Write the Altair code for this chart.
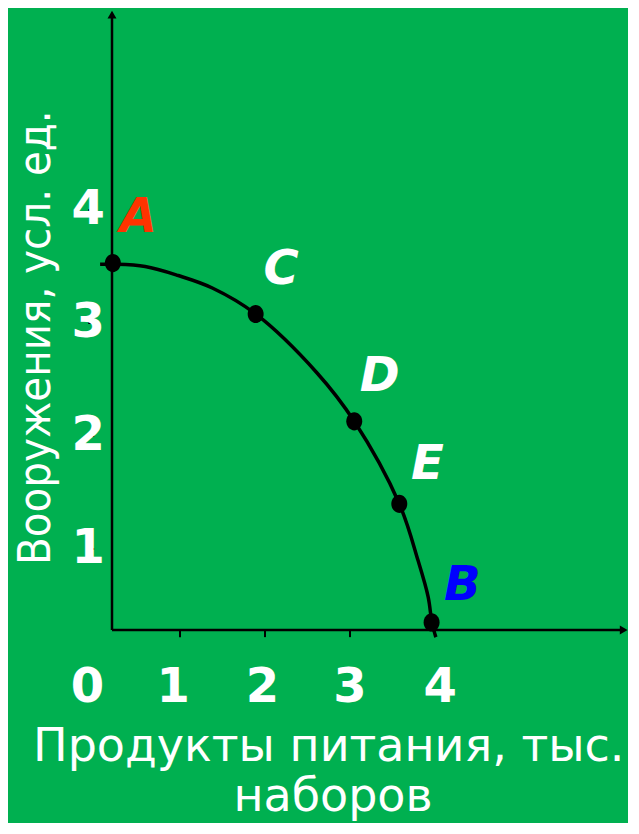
import altair as alt
import pandas as pd

# ---- data ----
point_names = ["A", "C", "D", "E", "B"]
food = [0.21, 1.89, 3.05, 3.58, 3.96]          # Продукты питания
arms = [3.53, 3.08, 2.13, 1.40, 0.35]          # Вооружения
label_colors = ["#FF3300", "#FFFFFF", "#FFFFFF", "#FFFFFF", "#0000FF"]
label_x = [0.51, 2.19, 3.35, 3.91, 4.32]
label_y = [3.93, 3.47, 2.52, 1.74, 0.67]

# production-possibility curve
curve_x = [0.06, 0.21, 0.59, 0.98, 1.38, 1.89, 2.61, 3.05, 3.58, 3.80, 3.92, 3.965, 4.01]
curve_y = [3.52, 3.52, 3.50, 3.42, 3.31, 3.08, 2.56, 2.13, 1.40, 0.90, 0.575, 0.345, 0.22]

tick_values = [1, 2, 3, 4]
x_tick_labels = ["0", "1", "2", "3", "4"]
x_tick_label_pos = [-0.09, 0.92, 1.97, 3.0, 4.06]
y_tick_labels = ["1", "2", "3", "4"]

x_title = "Продукты питания, тыс."
x_title2 = "наборов"
y_title = "Вооружения, усл. ед."

# axis geometry in data units
x_axis_start, x_axis_end = 0.2, 6.19
y_axis_start, y_axis_end = 0.283, 5.70

W, H = 620, 815
BG = "#00B050"

xs = alt.Scale(domain=[-1.02353, 6.27059], nice=False, zero=False)
ys = alt.Scale(domain=[-1.42478, 5.78761], nice=False, zero=False)

def X(field):
    return alt.X(field, type="quantitative", scale=xs, axis=None)

def Y(field):
    return alt.Y(field, type="quantitative", scale=ys, axis=None)

pts = pd.DataFrame({"name": point_names, "x": food, "y": arms,
                    "lx": label_x, "ly": label_y, "color": label_colors})
curve_df = pd.DataFrame({"x": curve_x, "y": curve_y, "i": list(range(len(curve_x)))})

# axes lines
axes_df = pd.DataFrame({
    "x": [x_axis_start, x_axis_start], "x2": [x_axis_start, x_axis_end],
    "y": [y_axis_start, y_axis_start], "y2": [y_axis_end, y_axis_start]})
axes = alt.Chart(axes_df).mark_rule(color="black", strokeWidth=2.5).encode(
    x=X("x"), x2="x2", y=Y("y"), y2="y2")

arrows_df = pd.DataFrame({"x": [x_axis_start, x_axis_end + 0.03],
                          "y": [y_axis_end + 0.03, y_axis_start],
                          "shape": ["triangle-up", "triangle-right"]})
arrows = alt.Chart(arrows_df).mark_point(filled=True, color="black", size=80, opacity=1).encode(
    x=X("x"), y=Y("y"), shape=alt.Shape("shape:N", scale=None, legend=None))

# ticks
xt_df = pd.DataFrame({"x": tick_values, "y": [0.283] * 4, "y2": [0.22] * 4})
xticks = alt.Chart(xt_df).mark_rule(color="black", strokeWidth=2).encode(
    x=X("x"), y=Y("y"), y2="y2")
yt_df = pd.DataFrame({"y": tick_values, "x": [-0.08] * 4, "x2": [-0.01] * 4})
yticks = alt.Chart(yt_df).mark_rule(color="black", strokeWidth=2).encode(
    x=X("x"), x2="x2", y=Y("y"))

# tick labels
xl_df = pd.DataFrame({"t": x_tick_labels, "x": x_tick_label_pos, "y": [-0.23] * 5})
xlabels = alt.Chart(xl_df).mark_text(font="DejaVu Sans", fontSize=48, fontWeight="bold",
                                     color="white", baseline="middle", align="center").encode(
    x=X("x"), y=Y("y"), text="t:N")
yl_df = pd.DataFrame({"t": y_tick_labels, "y": tick_values, "x": [-0.08] * 4})
ylabels = alt.Chart(yl_df).mark_text(font="DejaVu Sans", fontSize=48, fontWeight="bold",
                                     color="white", baseline="middle", align="center").encode(
    x=X("x"), y=Y("y"), text="t:N")

# curve and points
curve = alt.Chart(curve_df).mark_line(color="black", strokeWidth=3.5, interpolate="catmull-rom").encode(
    x=X("x"), y=Y("y"), order="i:Q")
dots = alt.Chart(pts).mark_point(filled=True, color="black", size=330, opacity=1,
                                 shape="M-0.88,0A0.88,1,0,1,0,0.88,0A0.88,1,0,1,0,-0.88,0Z").encode(
    x=X("x"), y=Y("y"))
labels = alt.Chart(pts).mark_text(font="DejaVu Sans", fontSize=48, fontWeight="bold",
                                  fontStyle="italic", baseline="middle", align="center").encode(
    x=X("lx"), y=Y("ly"), text="name:N", color=alt.Color("color:N", scale=None, legend=None))

# titles
t_df = pd.DataFrame({"t": [x_title, x_title2], "x": [2.75, 2.8], "y": [-0.88, -1.32]})
xtitle = alt.Chart(t_df).mark_text(font="DejaVu Sans", fontSize=46, color="white",
                                   baseline="alphabetic", align="center").encode(
    x=X("x"), y=Y("y"), text="t:N")
yt_title_df = pd.DataFrame({"t": [y_title], "x": [-0.70], "y": [2.87]})
ytitle = alt.Chart(yt_title_df).mark_text(font="DejaVu Sans Condensed", fontSize=45, color="white",
                                          angle=270, baseline="middle", align="center").encode(
    x=X("x"), y=Y("y"), text="t:N")

chart = alt.layer(axes, arrows, xticks, yticks, xlabels, ylabels, curve, dots, labels,
                  xtitle, ytitle).properties(
    width=W, height=H, background=BG, padding=0,
    autosize=alt.AutoSizeParams(type="none")
).configure_view(stroke=None)

chart.save("out.html", embed_options={"renderer": "svg", "actions": False})
